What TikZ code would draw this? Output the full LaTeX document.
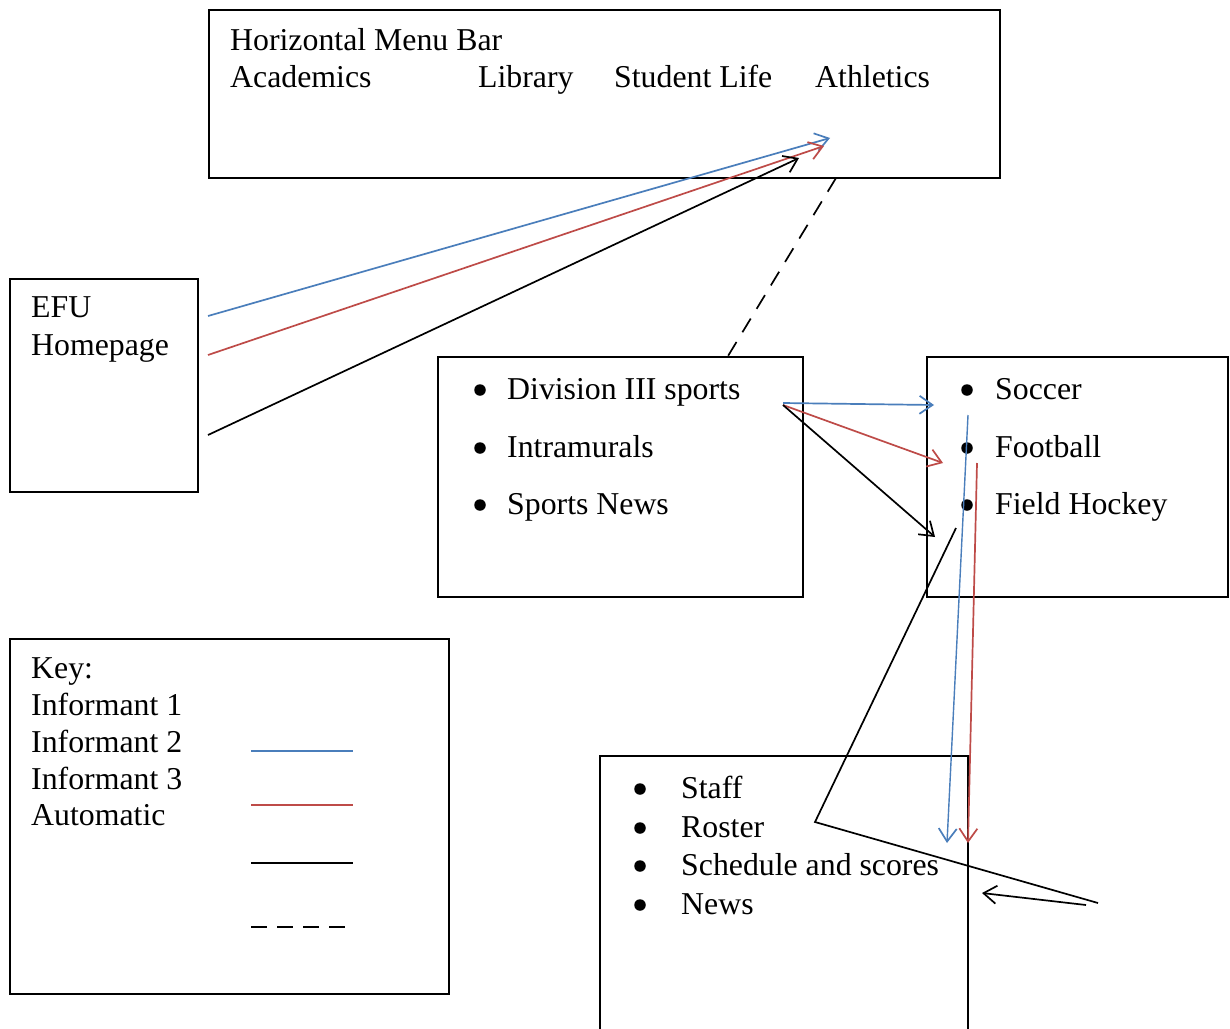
\documentclass[tikz,border=0pt]{standalone}
\usepackage{fontspec}
\setmainfont{Liberation Serif}
\usetikzlibrary{arrows.meta}
\definecolor{iblue}{HTML}{4A7EBB}
\definecolor{ired}{HTML}{BE4B48}
\tikzset{
  boxnode/.style={draw, line width=1.8pt, rectangle, anchor=north west, inner sep=0pt, outer sep=0pt},
  txt/.style={anchor=base west, inner sep=0pt, font=\fontsize{31.8}{36}\selectfont},
  bul/.style={circle, fill=black, inner sep=0pt, minimum size=11.5pt},
  link/.style={line width=1.7pt, -{Straight Barb[length=13pt,width=18pt,line width=1.7pt]}},
  plain/.style={line width=1.7pt},
  dashlink/.style={line width=1.7pt, dash pattern=on 16pt off 11.4pt},
  dashkey/.style={line width=1.7pt, dash pattern=on 16pt off 10pt}
}
\begin{document}
\begin{tikzpicture}[x=1pt,y=-1pt]
\clip (0,0) rectangle (1230,1028);
\fill[white] (0,0) rectangle (1230,1028);

% boxes
\node[boxnode, minimum width=791pt, minimum height=168pt] (menu) at (209,10) {};
\node[boxnode, minimum width=188pt, minimum height=213pt] (efu) at (10,279) {};
\node[boxnode, minimum width=365pt, minimum height=240pt] (div) at (438,357) {};
\node[boxnode, minimum width=301pt, minimum height=240pt] (soc) at (927,357) {};
\node[boxnode, minimum width=439pt, minimum height=355pt] (key) at (10,639) {};
\node[boxnode, minimum width=368pt, minimum height=320pt] (staff) at (600,756) {};

% menu texts
\node[txt] (tmenu) at (230,50) {Horizontal Menu Bar};
\node[txt] (tacad) at (230,87) {Academics};
\node[txt] (tlib) at (478,87) {Library};
\node[txt] (tstud) at (614,87) {Student Life};
\node[txt] (tath) at (815,87) {Athletics};

% EFU
\node[txt] (tefu) at (31,317) {EFU};
\node[txt] (thome) at (31,355) {Homepage};

% division box
\node[bul] (b1) at (480,390) {};
\node[bul] (b2) at (480,448) {};
\node[bul] (b3) at (480,505) {};
\node[txt] (tdiv) at (507,399) {Division III sports};
\node[txt] (tintra) at (507,457) {Intramurals};
\node[txt] (tnews) at (507,514) {Sports News};

% soccer box
\node[bul] (s1) at (967,390) {};
\node[bul] (s2) at (967,448) {};
\node[bul] (s3) at (967,505) {};
\node[txt] (tsoc) at (995,399) {Soccer};
\node[txt] (tfoot) at (995,457) {Football};
\node[txt] (tfh) at (995,514) {Field Hockey};

% staff box
\node[bul] (t1) at (640,789) {};
\node[bul] (t2) at (640,828) {};
\node[bul] (t3) at (640,866) {};
\node[bul] (t4) at (640,905) {};
\node[txt] (tstaff) at (681,798) {Staff};
\node[txt] (troster) at (681,837) {Roster};
\node[txt] (tsched) at (681,875) {Schedule and scores};
\node[txt] (tnw) at (681,914) {News};

% key
\node[txt] (tkey) at (31,678) {Key:};
\node[txt] (ti1) at (31,715) {Informant 1};
\node[txt] (ti2) at (31,752) {Informant 2};
\node[txt] (ti3) at (31,789) {Informant 3};
\node[txt] (tauto) at (31,825) {Automatic};

% coordinates
\coordinate (eb) at (208,316);
\coordinate (er) at (208,355);
\coordinate (ek) at (208,435);
\coordinate (mb) at (830,138);
\coordinate (mr) at (824,146);
\coordinate (mk) at (799,158);
\coordinate (md) at (836,178);
\coordinate (dd) at (728,356);
\coordinate (da) at (783,403);
\coordinate (db) at (783,405);
\coordinate (sb) at (934,405);
\coordinate (sr) at (943,463);
\coordinate (sk) at (935,537);
\coordinate (vb0) at (968,415);
\coordinate (vb1) at (947,843);
\coordinate (vr0) at (977,463);
\coordinate (vr1) at (968,843);
\coordinate (k0) at (956,528);
\coordinate (k1) at (815,822);
\coordinate (k2) at (1098,903);
\coordinate (k3) at (1086,905);
\coordinate (k4) at (982,893);
\coordinate (lb0) at (251,751);
\coordinate (lb1) at (353,751);
\coordinate (lr0) at (251,805);
\coordinate (lr1) at (353,805);
\coordinate (lk0) at (251,863);
\coordinate (lk1) at (353,863);
\coordinate (ld0) at (251,927);
\coordinate (ld1) at (345,927);

% connectors
\draw[link, iblue] (eb) -- (mb);
\draw[link, ired] (er) -- (mr);
\draw[link, black] (ek) -- (mk);
\draw[dashlink] (md) -- (dd);
\draw[link, iblue] (da) -- (sb);
\draw[link, ired] (db) -- (sr);
\draw[link, black] (db) -- (sk);
\draw[link, iblue, line width=1.4pt] (vb0) -- (vb1);
\draw[link, ired] (vr0) -- (vr1);
\draw[plain] (k0) -- (k1) -- (k2);
\draw[link] (k3) -- (k4);

% legend
\draw[plain, iblue] (lb0) -- (lb1);
\draw[plain, ired] (lr0) -- (lr1);
\draw[plain] (lk0) -- (lk1);
\draw[dashkey] (ld0) -- (ld1);
\end{tikzpicture}
\end{document}
